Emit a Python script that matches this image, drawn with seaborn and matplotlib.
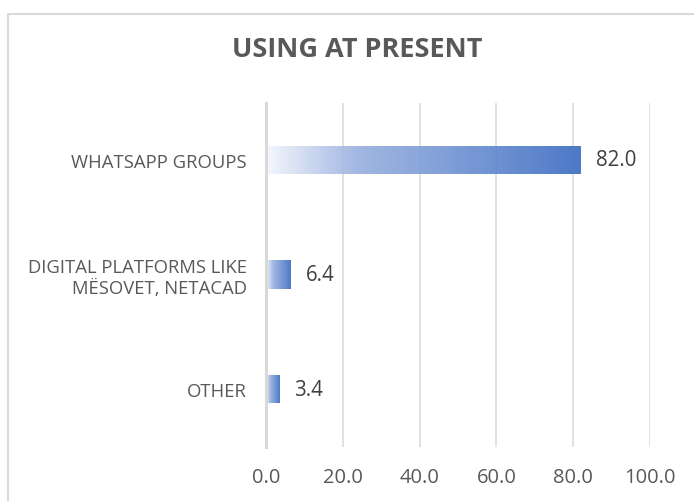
import numpy as np
import matplotlib
matplotlib.use("Agg")
import matplotlib.pyplot as plt
import seaborn as sns
from matplotlib.colors import LinearSegmentedColormap
from matplotlib.patches import Rectangle

# data
categories = ["WHATSAPP GROUPS", "DIGITAL PLATFORMS LIKE\nMËSOVET, NETACAD", "OTHER"]
values = [82.0, 6.4, 3.4]
ticks = [0, 20, 40, 60, 80, 100]

sns.set_style("white")
plt.rcParams["font.family"] = ["Open Sans", "DejaVu Sans"]

fig = plt.figure(figsize=(6.94, 5.02), dpi=100)
ax = fig.add_axes([266 / 694, 1 - 447.5 / 502, 384 / 694, 344 / 502])

sns.barplot(x=values, y=categories, orient="h", width=0.245, color="#4472C4", ax=ax)

# horizontal gradient fill, like the Excel chart
grad = LinearSegmentedColormap.from_list(
    "g", [(0, "#f4f7fc"), (0.28, "#9fb5e2"), (1, "#4472C4")])
for p in ax.patches:
    x0, y0 = p.get_x(), p.get_y()
    w, h = p.get_width(), p.get_height()
    im = ax.imshow(np.linspace(0, 1, 256).reshape(1, -1), cmap=grad, aspect="auto",
                   extent=[x0, x0 + w, y0 + h, y0], alpha=0.95, zorder=2)
    im.set_clip_path(p)
    p.set_facecolor("none")
    p.set_edgecolor("none")

ax.set_xlim(0, 100)
ax.set_ylim(2.5, -0.5)
ax.set_xticks(ticks)
ax.set_xticklabels([f"{t:.1f}" for t in ticks])
ax.xaxis.grid(True, color="#d9d9d9", lw=1.1)
ax.set_axisbelow(True)
for s in ["top", "right", "bottom"]:
    ax.spines[s].set_visible(False)
ax.spines["left"].set_color("#d9d9d9")
ax.spines["left"].set_linewidth(2.2)
ax.tick_params(axis="x", length=0, pad=15, labelsize=14.5, labelcolor="#595959")
ax.tick_params(axis="y", length=0, pad=14, labelsize=13.3, labelcolor="#595959")
ax.set_xlabel("")
ax.set_ylabel("")

for p, v in zip(ax.patches, values):
    ax.text(p.get_width() + 4.0, p.get_y() + p.get_height() / 2, f"{v:.1f}",
            va="center", ha="left", fontsize=14.8, color="#404040")

fig.text(357 / 694, 1 - 50 / 502, "USING AT PRESENT", ha="center", va="center",
         fontsize=19.5, fontweight="bold", color="#595959")

fig.patches.append(Rectangle((7.5 / 694, -0.1), 1.2, 1.1 - 14.5 / 502,
                             transform=fig.transFigure, fill=False,
                             edgecolor="#d9d9d9", lw=1.5))

fig.savefig("out.png", dpi=100)
